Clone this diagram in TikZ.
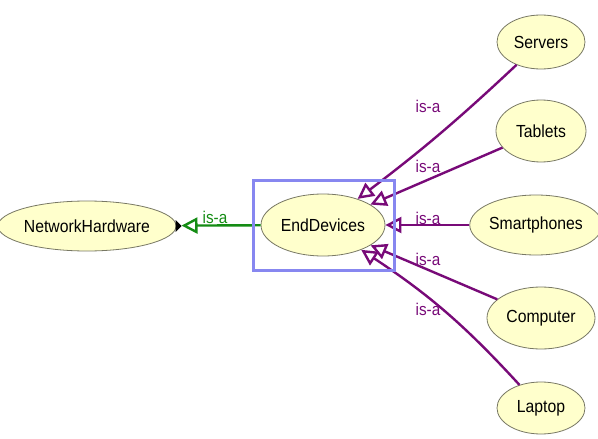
\documentclass[tikz,border=0pt]{standalone}
\usepackage{fontspec}
\setmainfont[FakeStretch=0.9]{Liberation Sans}
\usetikzlibrary{shapes.geometric,arrows.meta}
\definecolor{classfill}{RGB}{255,255,204}
\definecolor{classline}{RGB}{120,120,100}
\definecolor{isapurple}{RGB}{120,10,120}
\definecolor{isagreen}{RGB}{20,140,20}
\definecolor{selblue}{RGB}{135,135,240}
\tikzset{
  cls/.style={ellipse, draw=classline, line width=0.8pt, fill=classfill, inner sep=0pt,
              font=\fontsize{17.5}{20}\selectfont},
  isa/.style={draw=isapurple, line width=2.4pt,
              -{Triangle[open, length=16pt, width=16pt, line width=2.4pt]}},
  isalbl/.style={text=isapurple, font=\fontsize{17}{20}\selectfont, inner sep=0pt},
}
\begin{document}
\begin{tikzpicture}[x=1pt,y=-1pt]
\useasboundingbox (0,0) rectangle (598,439);
\fill[white] (0,0) rectangle (598,439);

% class nodes
\node[cls, minimum width=156pt, minimum height=50pt] (nh) at (87,226) {NetworkHardware};
\node[cls, minimum width=124pt, minimum height=62pt] (ed) at (323,225) {EndDevices};
\node[cls, minimum width=88pt, minimum height=54pt]  (srv) at (541,42)  {Servers};
\node[cls, minimum width=90pt, minimum height=62pt]  (tab) at (541,131) {Tablets};
\node[cls, minimum width=120pt, minimum height=60pt] (sph) at (536,225) {Smartphones};
\node[cls, minimum width=108pt, minimum height=62pt] (cmp) at (541,318) {Computer};
\node[cls, minimum width=88pt, minimum height=52pt]  (lap) at (541,408) {Laptop};

% subclass edges
\draw[isa] (srv) to[bend left=3] (ed);
\draw[isa] (tab) to (ed);
\draw[isa] (sph) to (ed);
\draw[isa] (cmp) to (ed);
\draw[isa] (lap) to[bend right=7] (ed);
\draw[draw=isagreen, line width=2.4pt, shorten >=5pt,
      -{Triangle[open, length=16pt, width=16pt, line width=2.4pt]}] (ed) -- (nh);
\fill[black] (nh.east) ++(5,0) -- ++(-6,-6) -- ++(0,12) -- cycle;

% edge labels
\node[isalbl] (l1) at (428,106) {is-a};
\node[isalbl] (l2) at (428,166) {is-a};
\node[isalbl] (l3) at (428,218) {is-a};
\node[isalbl] (l4) at (428,259) {is-a};
\node[isalbl] (l5) at (428,309) {is-a};
\node[isalbl, text=isagreen] (l0) at (215,217) {is-a};

% selection frame
\draw[selblue, line width=3pt] ([xshift=-70pt,yshift=45pt]ed.center) rectangle ([xshift=71pt,yshift=-45pt]ed.center);
\end{tikzpicture}
\end{document}
